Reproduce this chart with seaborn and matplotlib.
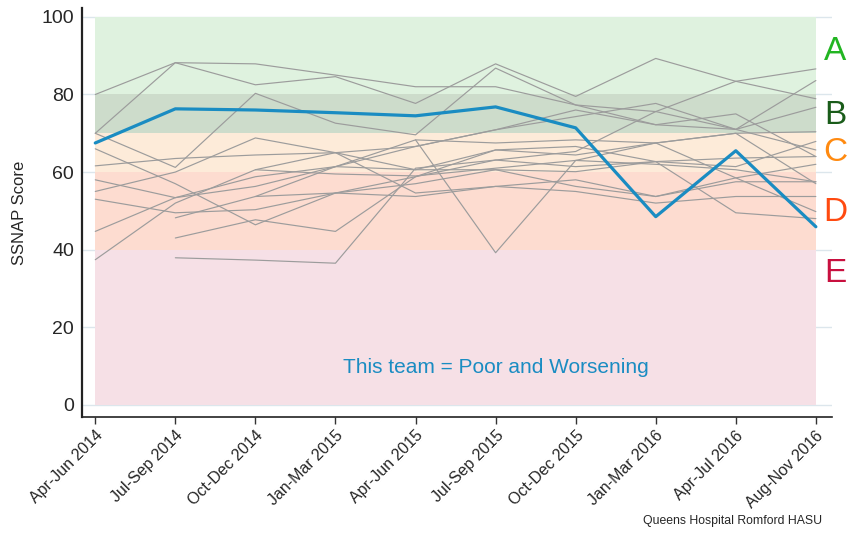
import numpy as np
import pandas as pd
import matplotlib
matplotlib.use("Agg")
import matplotlib.pyplot as plt
import seaborn as sns

# Reporting periods
periods = ["Apr-Jun 2014", "Jul-Sep 2014", "Oct-Dec 2014", "Jan-Mar 2015",
           "Apr-Jun 2015", "Jul-Sep 2015", "Oct-Dec 2015", "Jan-Mar 2016",
           "Apr-Jul 2016", "Aug-Nov 2016"]

# This team's SSNAP score
this_team = [67.5, 76.3, 76.0, 75.3, 74.5, 76.8, 71.4, 48.5, 65.5, 45.9]

# Other teams (NaN = no data for that period)
nan = np.nan
team_01 = [80.0, 88.2, 87.9, 85.0, 82.0, 82.0, 77.3, 75.6, 83.4, 86.6]
team_02 = [70.0, 88.2, 82.5, 84.6, 77.7, 87.9, 79.5, 89.3, 83.4, 78.9]
team_03 = [70.0, 61.2, 80.3, 72.6, 69.6, 86.8, 77.3, 72.2, 71.0, 83.6]
team_04 = [61.6, 63.5, 64.4, 65.0, 66.6, 70.9, 74.3, 77.7, 71.0, 76.7]
team_05 = [58.0, 53.4, 56.3, 61.4, 68.3, 67.5, 68.3, 67.5, 70.0, 70.4]
team_06 = [55.0, 60.0, 68.8, 65.0, 60.6, 65.7, 66.6, 62.7, 61.4, 67.9]
team_07 = [53.0, 49.5, 50.3, 54.6, 58.8, 63.1, 65.3, 75.6, 71.0, 65.7]
team_08 = [44.7, 53.4, 58.8, 61.4, 60.6, 60.6, 60.1, 62.7, 63.6, 64.0]
team_09 = [37.4, 52.0, 60.6, 65.0, 54.6, 56.3, 58.0, 53.7, 57.5, 57.5]
team_10 = [nan, 48.2, 53.7, 54.6, 53.7, 56.3, 55.0, 52.0, 53.7, 53.7]
team_11 = [nan, 43.0, 47.7, 44.7, 58.8, 65.7, 64.4, 67.5, 58.5, 49.8]
team_12 = [nan, 37.9, 37.3, 36.5, 61.0, 63.1, 61.4, 62.7, 49.5, 48.0]
team_13 = [nan, nan, 60.6, 59.5, 59.0, 61.0, 63.0, 62.0, 60.6, 57.5]
team_14 = [nan, nan, 53.7, 61.4, 66.6, 70.9, 76.0, 72.2, 75.0, 64.0]
team_15 = [nan, nan, nan, nan, 68.3, 39.2, 63.0, 67.5, 70.0, 57.0]
team_16 = [66.0, 57.0, 46.4, 54.6, 57.0, 60.6, 56.3, 53.7, 58.5, 62.0]

other_teams = [team_01, team_02, team_03, team_04, team_05, team_06, team_07,
               team_08, team_09, team_10, team_11, team_12, team_13, team_14,
               team_15, team_16]

# Performance bands (grade, lower, upper)
band_grades = ["A", "B", "C", "D", "E"]
band_lower = [80, 70, 60, 40, 0]
band_upper = [100, 80, 70, 60, 40]
band_fill = ["#dff2df", "#cddccb", "#fdebd9", "#fddcd0", "#f6e0e6"]
grade_colour = ["#22b522", "#1a5c1a", "#ff8a10", "#ff4a10", "#c8103f"]
grade_y = [91, 74.5, 65, 49.7, 33.8]

x = np.arange(len(periods))
rows = []
for i, vals in enumerate(other_teams):
    for xi, v in zip(x, vals):
        rows.append({"team": f"T{i:02d}", "x": xi, "score": v})
others = pd.DataFrame(rows).dropna()
this_df = pd.DataFrame({"x": x, "score": this_team})

sns.set_style("white")
plt.rcParams["font.family"] = ["Liberation Sans", "DejaVu Sans"]

fig = plt.figure(figsize=(8.48, 5.33), dpi=100)
ax = fig.add_axes([0.097, 0.218, 0.884, 0.767])

# Light grid at the major y ticks
for yv in range(0, 101, 20):
    ax.axhline(yv, color="#dce6ec", lw=1, zorder=0)

# Coloured grade bands
for lo, hi, c in zip(band_lower, band_upper, band_fill):
    ax.fill_between([x[0], x[-1]], lo, hi, color=c, lw=0, zorder=1)

sns.lineplot(data=others, x="x", y="score", units="team", estimator=None,
             color="#9c9c9c", lw=0.85, ax=ax, zorder=2, legend=False)
sns.lineplot(data=this_df, x="x", y="score", color="#1a8cc2", lw=2.3,
             ax=ax, zorder=3, legend=False)

for g, yv, c in zip(band_grades, grade_y, grade_colour):
    ax.text(9.24, yv, g, color=c, fontsize=24, ha="center", va="center",
            clip_on=False)

ax.text(5.0, 9.5, "This team = Poor and Worsening", color="#1a8cc2",
        fontsize=15, ha="center", va="center")

ax.set_xlim(-0.1625, 9.2)
ax.set_ylim(-3.1, 102.3)
ax.set_xticks(x)
ax.set_xticklabels(periods, rotation=45, ha="right", rotation_mode="anchor",
                   fontsize=11.5)
ax.set_yticks(range(0, 101, 20))
ax.tick_params(axis="y", labelsize=14, length=0, pad=6, left=False)
ax.tick_params(axis="x", length=5, width=1, direction="out", bottom=True,
               color="#333333", pad=3)
ax.set_xlabel("")
ax.set_ylabel("SSNAP Score", fontsize=12, labelpad=10)
for side in ("top", "right"):
    ax.spines[side].set_visible(False)
ax.spines["left"].set_linewidth(1.6)
ax.spines["bottom"].set_linewidth(1.2)
ax.spines["left"].set_color("#222222")
ax.spines["bottom"].set_color("#222222")

fig.text(0.97, 0.022, "Queens Hospital Romford HASU", fontsize=8.8,
         ha="right", va="center")

fig.savefig("out.png", dpi=100)
